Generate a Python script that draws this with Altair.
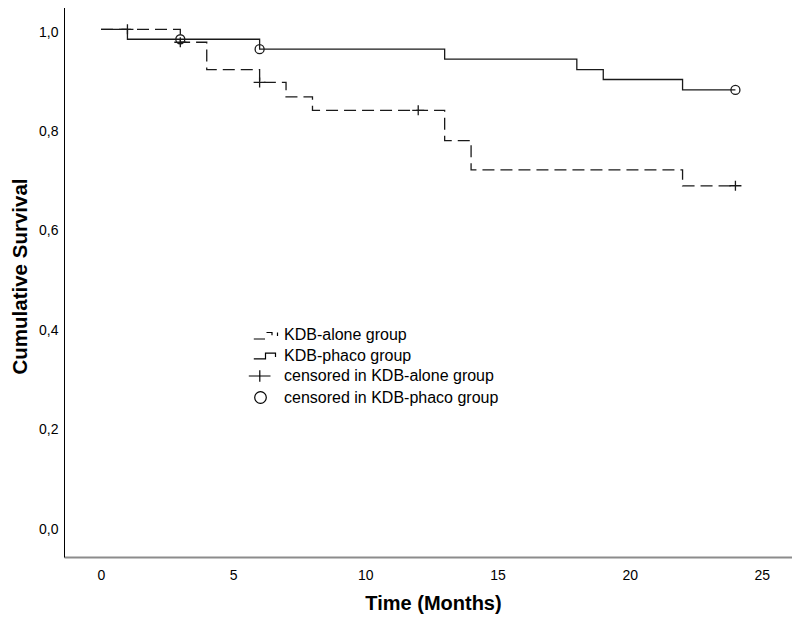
import altair as alt
import pandas as pd

# ---- data ----
alone_time = [0, 3, 4, 6, 7, 8, 13, 14, 22, 24]
alone_surv = [1.0, 0.974, 0.919, 0.893, 0.864, 0.837, 0.776, 0.717, 0.685, 0.685]
phaco_time = [0, 1, 6, 13, 18, 19, 22, 24]
phaco_surv = [1.0, 0.980, 0.960, 0.940, 0.919, 0.899, 0.878, 0.878]
alone_cens_time = [1, 3, 6, 12, 24]
alone_cens_surv = [1.0, 0.974, 0.893, 0.837, 0.685]
phaco_cens_time = [3, 6, 24]
phaco_cens_surv = [0.980, 0.960, 0.878]
legend_labels = [
    "KDB-alone group",
    "KDB-phaco group",
    "censored in KDB-alone group",
    "censored in KDB-phaco group",
]
y_ticks = [0.0, 0.2, 0.4, 0.6, 0.8, 1.0]
x_ticks = [0, 5, 10, 15, 20, 25]

FONT = "Liberation Sans, Arial, sans-serif"

alone = pd.DataFrame({"t": alone_time, "s": alone_surv})
phaco = pd.DataFrame({"t": phaco_time, "s": phaco_surv})
alone_c = pd.DataFrame({"t": alone_cens_time, "s": alone_cens_surv})
phaco_c = pd.DataFrame({"t": phaco_cens_time, "s": phaco_cens_surv})
leg = pd.DataFrame({"entry": legend_labels})

# legend symbol paths (unit coordinates)
sym_dash_step = "M-1.22,0.4H-0.1M0.05,-0.25H0.6V0.02M1.15,-0.25V0.1"
sym_solid_step = "M-1.22,0.33H-0.05V-0.24H0.95V0.16"
sym_plus_leg = "M-1.72,0H0.45M-0.62,-0.58V0.58"
sym_circle_leg = "M0.03,0A0.58,0.58 0 1,1 -1.13,0A0.58,0.58 0 1,1 0.03,0Z"
# data marker paths
sym_plus = "M-1.2,0H1.2M0,-1V1"
sym_circle = "M0.9,0A0.9,0.9 0 1,1 -0.9,0A0.9,0.9 0 1,1 0.9,0Z"

x_scale = alt.Scale(domain=[-1.40, 26.14], nice=False, zero=False)
y_scale = alt.Scale(domain=[-0.0624, 1.055], nice=False, zero=False)

x_axis = alt.Axis(
    values=x_ticks, title="Time (Months)", grid=False, ticks=False, tickSize=0,
    domainColor="#8c8c8c", domainWidth=2, labelFont=FONT, labelFontSize=14,
    labelColor="black", labelPadding=11, titleFont=FONT, titleFontSize=20,
    titleFontWeight="bold", titleColor="black", titleX=369, titleY=46,
    titleBaseline="middle", titleAlign="center",
)
y_axis = alt.Axis(
    values=y_ticks, title="Cumulative Survival", grid=False, ticks=False, tickSize=0,
    domainColor="black", domainWidth=1, labelFont=FONT, labelFontSize=14,
    labelColor="black", labelPadding=6, labelOffset=3,
    labelExpr="replace(format(datum.value, '.1f'), '.', ',')",
    titleFont=FONT, titleFontSize=20.5, titleFontWeight="bold", titleColor="black",
    titleX=-44, titleY=274, titleBaseline="middle", titleAlign="center", titleAngle=-90,
)

X = alt.X("t:Q", scale=x_scale, axis=x_axis)
Y = alt.Y("s:Q", scale=y_scale, axis=y_axis)

line_alone = alt.Chart(alone).mark_line(
    interpolate="step-after", color="#1a1a1a", strokeWidth=1.3, strokeDash=[12, 6]
).encode(x=X, y=Y)

line_phaco = alt.Chart(phaco).mark_line(
    interpolate="step-after", color="#1a1a1a", strokeWidth=1.3
).encode(x="t:Q", y="s:Q")

cens_alone = alt.Chart(alone_c).mark_point(
    filled=False, color="#1a1a1a", strokeWidth=1.3, opacity=1
).encode(x="t:Q", y="s:Q", shape=alt.value(sym_plus), size=alt.value(100))

cens_phaco = alt.Chart(phaco_c).mark_point(
    filled=False, color="#1a1a1a", strokeWidth=1.3, opacity=1
).encode(x="t:Q", y="s:Q", shape=alt.value(sym_circle), size=alt.value(100))

legend_layer = alt.Chart(leg).mark_point(
    filled=False, color="black", opacity=0
).encode(
    shape=alt.Shape(
        "entry:N",
        scale=alt.Scale(
            domain=legend_labels,
            range=[sym_dash_step, sym_solid_step, sym_plus_leg, sym_circle_leg],
        ),
        legend=alt.Legend(
            title=None, orient="none", legendX=191, legendY=322, padding=0,
            symbolSize=400, symbolStrokeWidth=1.2, symbolStrokeColor="black",
            symbolFillColor="transparent", symbolOpacity=1, labelFont=FONT,
            labelFontSize=16, labelColor="black", labelOffset=7, labelLimit=400,
            rowPadding=1.5,
        ),
    )
)

chart = alt.layer(line_alone, line_phaco, cens_alone, cens_phaco, legend_layer).properties(
    width=728, height=555,
    autosize=alt.AutoSizeParams(type="none"),
    padding={"left": 56, "top": -6, "right": 0, "bottom": 57},
    background="white",
).configure_view(stroke=None)

chart.save("out.html", embed_options={"renderer": "svg", "actions": False})
